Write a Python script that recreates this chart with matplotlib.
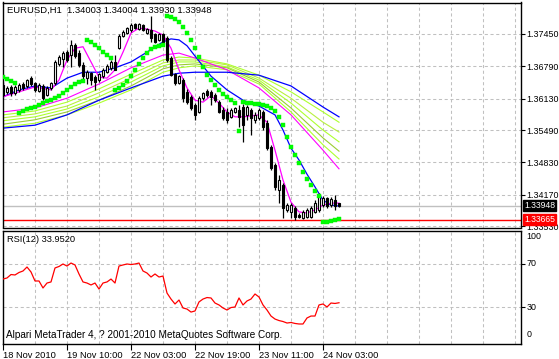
import numpy as np
import matplotlib
matplotlib.use("Agg")
import matplotlib.pyplot as plt
from matplotlib.transforms import blended_transform_factory as btf

plt.rcParams['font.family'] = ['Liberation Sans', 'DejaVu Sans']

# ---------------- data ----------------
symbol_title = "EURUSD,H1  1.34003 1.34004 1.33930 1.33948"
rsi_title = "RSI(12) 33.9520"
copyright_text = "Alpari MetaTrader 4, ? 2001-2010 MetaQuotes Software Corp."

opens = [1.3641, 1.3627, 1.3637, 1.3625, 1.3631, 1.3643, 1.3639, 1.3655, 1.3645, 1.3629,
         1.3639, 1.3621, 1.3635, 1.3645, 1.3684, 1.3694, 1.3708, 1.3702, 1.3723, 1.3706,
         1.3682, 1.3655, 1.3665, 1.3657, 1.3651, 1.3659, 1.3667, 1.3676, 1.3688, 1.3716,
         1.3741, 1.3747, 1.3753, 1.3765, 1.3755, 1.3763, 1.3747, 1.3753, 1.3745, 1.3733,
         1.3745, 1.3737, 1.3696, 1.3663, 1.3645, 1.3651, 1.3627, 1.3617, 1.3600, 1.3586,
         1.3614, 1.3629, 1.3627, 1.3621, 1.3606, 1.3590, 1.3586, 1.3576, 1.3586, 1.3590,
         1.3596, 1.3580, 1.3590, 1.3570, 1.3574, 1.3586, 1.3563, 1.3514, 1.3478, 1.3427,
         1.3437, 1.3386, 1.3382, 1.3390, 1.3376, 1.3370, 1.3372, 1.3372, 1.3382, 1.3386,
         1.3396, 1.3410, 1.3396, 1.3406, 1.34003]
highs = [1.3647, 1.3639, 1.3641, 1.3641, 1.3645, 1.3647, 1.3653, 1.3659, 1.3647, 1.3645,
         1.3643, 1.3639, 1.3647, 1.3692, 1.3702, 1.3710, 1.3712, 1.3733, 1.3727, 1.3712,
         1.3688, 1.3672, 1.3667, 1.3661, 1.3665, 1.3676, 1.3684, 1.3692, 1.3702, 1.3745,
         1.3753, 1.3759, 1.3767, 1.3767, 1.3767, 1.3765, 1.3757, 1.3782, 1.3747, 1.3747,
         1.3747, 1.3741, 1.3700, 1.3665, 1.3661, 1.3655, 1.3633, 1.3621, 1.3604, 1.3619,
         1.3627, 1.3633, 1.3631, 1.3625, 1.3610, 1.3596, 1.3594, 1.3594, 1.3596, 1.3600,
         1.3602, 1.3600, 1.3594, 1.3586, 1.3594, 1.3590, 1.3570, 1.3519, 1.3482, 1.3457,
         1.3441, 1.3400, 1.3400, 1.3394, 1.3380, 1.3386, 1.3390, 1.3394, 1.3406, 1.3421,
         1.3415, 1.3413, 1.3413, 1.3417, 1.34004]
lows = [1.3617, 1.3623, 1.3619, 1.3621, 1.3627, 1.3631, 1.3635, 1.3639, 1.3627, 1.3627,
        1.3610, 1.3619, 1.3631, 1.3641, 1.3680, 1.3678, 1.3688, 1.3678, 1.3696, 1.3678,
        1.3651, 1.3643, 1.3641, 1.3631, 1.3647, 1.3655, 1.3665, 1.3672, 1.3672, 1.3714,
        1.3739, 1.3745, 1.3749, 1.3755, 1.3753, 1.3751, 1.3745, 1.3729, 1.3727, 1.3731,
        1.3723, 1.3688, 1.3659, 1.3641, 1.3643, 1.3606, 1.3602, 1.3590, 1.3570, 1.3584,
        1.3610, 1.3617, 1.3600, 1.3606, 1.3584, 1.3570, 1.3563, 1.3574, 1.3584, 1.3555,
        1.3525, 1.3570, 1.3539, 1.3563, 1.3570, 1.3549, 1.3508, 1.3468, 1.3427, 1.3400,
        1.3370, 1.3382, 1.3370, 1.3366, 1.3370, 1.3368, 1.3370, 1.3370, 1.3380, 1.3382,
        1.3392, 1.3390, 1.3392, 1.3386, 1.33930]
closes = [1.3621, 1.3635, 1.3625, 1.3637, 1.3641, 1.3635, 1.3651, 1.3643, 1.3631, 1.3641,
          1.3614, 1.3635, 1.3645, 1.3688, 1.3698, 1.3706, 1.3692, 1.3723, 1.3700, 1.3682,
          1.3659, 1.3667, 1.3651, 1.3647, 1.3663, 1.3672, 1.3680, 1.3688, 1.3672, 1.3741,
          1.3749, 1.3757, 1.3763, 1.3757, 1.3765, 1.3753, 1.3755, 1.3737, 1.3729, 1.3745,
          1.3725, 1.3692, 1.3661, 1.3645, 1.3659, 1.3614, 1.3606, 1.3594, 1.3580, 1.3614,
          1.3625, 1.3621, 1.3617, 1.3610, 1.3586, 1.3574, 1.3570, 1.3590, 1.3594, 1.3576,
          1.3559, 1.3596, 1.3574, 1.3580, 1.3590, 1.3555, 1.3512, 1.3472, 1.3433, 1.3447,
          1.3390, 1.3396, 1.3396, 1.3372, 1.3372, 1.3382, 1.3386, 1.3390, 1.3400, 1.3417,
          1.3410, 1.3394, 1.3408, 1.3394, 1.33948]

sar = [1.3657, 1.3653, 1.3649, 1.3645, 1.3584, 1.3588, 1.3592, 1.3594, 1.3596, 1.3600,
       1.3604, 1.3608, 1.3610, 1.3614, 1.3619, 1.3625, 1.3631, 1.3637, 1.3643, 1.3647,
       1.3649, 1.3733, 1.3729, 1.3723, 1.3716, 1.3708, 1.3702, 1.3696, 1.3631, 1.3635,
       1.3641, 1.3649, 1.3659, 1.3672, 1.3684, 1.3696, 1.3706, 1.3714, 1.3718, 1.3721,
       1.3723, 1.3782, 1.3780, 1.3776, 1.3769, 1.3759, 1.3747, 1.3733, 1.3716, 1.3698,
       1.3678, 1.3661, 1.3651, 1.3641, 1.3631, 1.3623, 1.3617, 1.3610, 1.3604, 1.3547,
       1.3606, 1.3604, 1.3604, 1.3602, 1.3602, 1.3600, 1.3598, 1.3594, 1.3588, 1.3576,
       1.3559, 1.3535, 1.3514, 1.3498, 1.3482, 1.3463, 1.3449, 1.3437, 1.3425, 1.3415,
       1.3362, 1.3362, 1.3364, 1.3366, 1.3368]

rsi = [56.0, 57.0, 60.2, 59.8, 62.1, 63.5, 67.2, 62.6, 54.2, 54.2,
       47.7, 52.3, 53.3, 66.3, 67.7, 70.0, 68.1, 70.9, 69.1, 60.7,
       53.3, 52.3, 50.5, 52.3, 46.7, 52.3, 53.3, 56.0, 52.3, 68.1,
       69.1, 70.0, 69.5, 70.0, 70.9, 63.5, 61.6, 57.9, 60.7, 57.9,
       58.8, 43.0, 37.4, 32.8, 36.5, 29.1, 28.1, 25.3, 26.3, 34.7,
       37.4, 38.8, 38.4, 33.7, 31.9, 29.1, 27.2, 29.5, 30.0, 38.4,
       31.9, 35.6, 37.4, 42.1, 39.3, 31.9, 27.2, 21.6, 18.8, 17.4,
       16.5, 15.1, 15.6, 14.7, 14.2, 14.2, 19.8, 21.6, 21.6, 31.9,
       32.8, 30.0, 33.7, 33.3, 33.95]

fast_ma_bars = [0, 4, 8, 12, 14, 16, 18, 20, 22, 24, 26, 28, 30, 32, 34, 36, 38, 40, 42, 44,
                46, 48, 50, 52, 54, 56, 58, 60, 62, 64, 66, 68, 70, 72, 74, 76, 78, 80, 82, 84]
fast_ma = [1.3617, 1.3627, 1.3637, 1.3631, 1.3651, 1.3692, 1.3716, 1.3719, 1.3688, 1.3657,
           1.3655, 1.3672, 1.3708, 1.3747, 1.3757, 1.3755, 1.3751, 1.3743, 1.3716, 1.3672,
           1.3635, 1.3610, 1.3606, 1.3619, 1.3604, 1.3586, 1.3576, 1.3576, 1.3578, 1.3580,
           1.3565, 1.3508, 1.3447, 1.3402, 1.3382, 1.3380, 1.3386, 1.3396, 1.3400, 1.3400]

mid_ma_bars = [0, 4, 8, 12, 16, 20, 24, 28, 32, 36, 40, 42, 44, 46, 48, 52, 56, 60, 64, 68,
               70, 72, 74, 76, 78, 80, 82, 84]
mid_ma = [1.3617, 1.3631, 1.3639, 1.3635, 1.3655, 1.3667, 1.3667, 1.3676, 1.3688, 1.3708,
          1.3729, 1.3735, 1.3733, 1.3721, 1.3700, 1.3659, 1.3631, 1.3610, 1.3598, 1.3580,
          1.3549, 1.3512, 1.3488, 1.3459, 1.3433, 1.3406, 1.3396, 1.3394]

ribbon_bars = [0, 8, 16, 24, 32, 40, 44, 48, 56, 64, 72, 80, 84]
slow_magenta = [1.3586, 1.3594, 1.3614, 1.3643, 1.3676, 1.3702, 1.3706, 1.3696, 1.3672, 1.3635, 1.3580, 1.3508, 1.3470]
ribbon_1 = [1.3580, 1.3588, 1.3606, 1.3633, 1.3663, 1.3692, 1.3698, 1.3696, 1.3684, 1.3661, 1.3627, 1.3586, 1.3565]
ribbon_2 = [1.3574, 1.3582, 1.3598, 1.3625, 1.3655, 1.3686, 1.3692, 1.3692, 1.3682, 1.3655, 1.3614, 1.3565, 1.3545]
ribbon_3 = [1.3568, 1.3576, 1.3592, 1.3617, 1.3647, 1.3680, 1.3688, 1.3688, 1.3678, 1.3651, 1.3604, 1.3549, 1.3525]
ribbon_4 = [1.3561, 1.3570, 1.3586, 1.3610, 1.3639, 1.3674, 1.3682, 1.3684, 1.3676, 1.3647, 1.3594, 1.3533, 1.3506]
ribbon_5 = [1.3555, 1.3563, 1.3580, 1.3604, 1.3631, 1.3667, 1.3676, 1.3680, 1.3672, 1.3643, 1.3586, 1.3519, 1.3490]
slow_blue = [1.3553, 1.3559, 1.3580, 1.3610, 1.3635, 1.3659, 1.3665, 1.3667, 1.3667, 1.3661, 1.3639, 1.3596, 1.3576]

price_ticks = [1.37450, 1.36790, 1.36130, 1.35490, 1.34830, 1.34170, 1.33530]
price_tick_labels = ["1.37450", "1.36790", "1.36130", "1.35490", "1.34830", "1.34170", "1.33530"]
date_tick_bars = [0, 16, 32, 48, 64, 80]
date_labels = ["18 Nov 2010", "19 Nov 10:00", "22 Nov 03:00", "22 Nov 19:00", "23 Nov 11:00", "24 Nov 03:00"]
rsi_levels = [70, 30]
rsi_tick_values = [100, 70, 30, 0]
bid_price = 1.33948
level_price = 1.33665

# ---------------- layout ----------------
W, H = 559, 359
fig = plt.figure(figsize=(W / 100, H / 100), dpi=100)
fig.patch.set_facecolor('white')


def px_axes(x0, y0, x1, y1):
    return fig.add_axes([x0 / W, 1 - y1 / H, (x1 - x0) / W, (y1 - y0) / H])


ax = px_axes(2.5, 2.5, 520.5, 227.5)
rx = px_axes(2.5, 230.5, 520.5, 343.5)

XL = (-0.125, 129.375)
FS = 6.7
YFS = 6.4
GRID = dict(color='#C0C0C0', linestyle=(0, (3, 2.5)), linewidth=0.75)

for a in (ax, rx):
    a.set_xlim(*XL)
    for s in a.spines.values():
        s.set_color('black')
        s.set_linewidth(1.0)
    for xg in range(8, 130, 8):
        a.axvline(xg, zorder=0, **GRID)

# main panel
ax.set_ylim(1.335026, 1.380926)
for p in price_ticks:
    ax.axhline(p, zorder=0, **GRID)
ax.yaxis.tick_right()
ax.set_yticks(price_ticks)
ax.set_yticklabels(price_tick_labels, fontsize=YFS)
ax.tick_params(axis='y', length=3, width=0.8, pad=1.5, colors='black')
ax.set_xticks([])

# ribbon lines
ribbon_colors = ['#ADFF2F', '#B8F040', '#ADFF2F', '#9ACD32', '#ADFF2F']
for vals, c in zip([ribbon_1, ribbon_2, ribbon_3, ribbon_4, ribbon_5], ribbon_colors):
    ax.plot(ribbon_bars, vals, color=c, lw=0.8, zorder=2)
ax.plot(ribbon_bars, slow_magenta, color='#FF00FF', lw=0.8, zorder=2)
ax.plot(ribbon_bars, slow_blue, color='#0000FF', lw=0.9, zorder=2)
ax.plot(mid_ma_bars, mid_ma, color='#0000FF', lw=0.9, zorder=3)
ax.plot(fast_ma_bars, fast_ma, color='#FF00FF', lw=0.9, zorder=3)

# horizontal price lines
ax.axhline(bid_price, color='#C0C0C0', lw=1.0, zorder=1)
ax.axhline(level_price, color='#FF0000', lw=1.0, zorder=1)

# candles
idx = np.arange(len(opens))
o = np.array(opens); h = np.array(highs); l = np.array(lows); c = np.array(closes)
ax.vlines(idx, l, h, color='black', lw=0.9, zorder=4)
up = c >= o
ax.bar(idx[up], (c - o)[up], bottom=o[up], width=0.7, facecolor='white', edgecolor='black',
       linewidth=0.8, zorder=5)
ax.bar(idx[~up], (o - c)[~up], bottom=c[~up], width=0.7, facecolor='black', edgecolor='black',
       linewidth=0.8, zorder=5)

# parabolic SAR
ax.plot(idx, sar, linestyle='none', marker='s', markersize=2.9, color='#00FF00', mec='#00EE00',
        mew=0.3, zorder=6)

# right-side price boxes
tr = btf(ax.transAxes, ax.transData)
ax.text(1.0 + 3.5 / 518, bid_price, "1.33948", transform=tr, ha='left', va='center', color='white',
        fontsize=6.2, clip_on=False, zorder=10,
        bbox=dict(boxstyle='square,pad=0.15', fc='black', ec='black'))
ax.text(1.0 + 3.5 / 518, level_price, "1.33665", transform=tr, ha='left', va='center', color='white',
        fontsize=6.2, clip_on=False, zorder=10,
        bbox=dict(boxstyle='square,pad=0.15', fc='#FF0000', ec='#FF0000'))

# RSI panel
rx.set_ylim(-3.95, 101.16)
for lv in rsi_levels:
    rx.axhline(lv, zorder=0, **GRID)
rx.plot(idx, rsi, color='#FF0000', lw=0.9, zorder=3)
rx.yaxis.tick_right()
rx.set_yticks(rsi_levels)
rx.set_yticklabels([])
rx.tick_params(axis='y', length=3, width=0.8)
trr = btf(rx.transAxes, rx.transData)
for v in rsi_tick_values:
    va = 'top' if v == 100 else ('bottom' if v == 0 else 'center')
    rx.text(1.0 + 6 / 518, v, str(v), transform=trr, ha='left', va=va, fontsize=YFS, clip_on=False)

rx.set_xticks(date_tick_bars)
rx.set_xticklabels(date_labels, fontsize=FS, ha='left')
rx.tick_params(axis='x', length=4, width=0.8, pad=1.5, direction='out')

# texts
fig.text(7 / W, 1 - 10 / H, symbol_title, fontsize=6.8, va='center', ha='left')
fig.text(7 / W, 1 - 239 / H, rsi_title, fontsize=FS, va='center', ha='left')
fig.text(6 / W, 1 - 335 / H, copyright_text, fontsize=7.2, va='center', ha='left')

fig.savefig('out.png', dpi=100, facecolor='white')
